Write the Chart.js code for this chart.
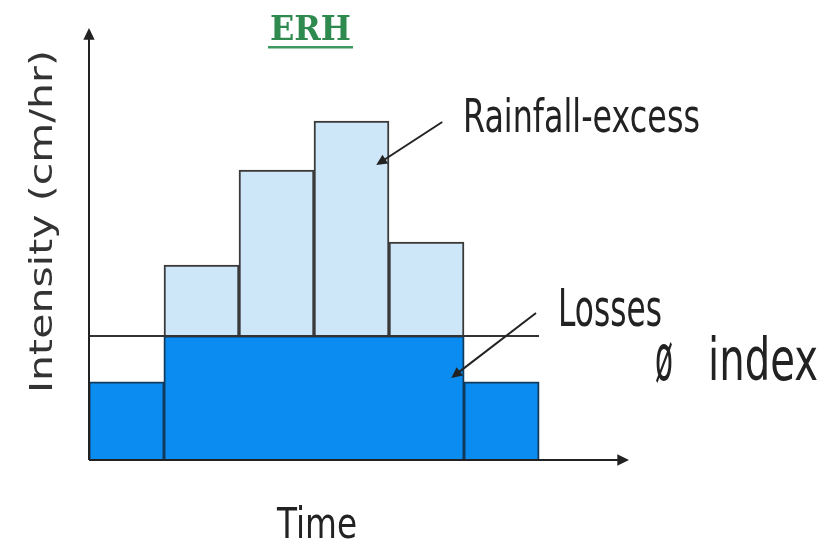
<!DOCTYPE html>
<html>
<head>
<meta charset="utf-8">
<title>ERH - phi index</title>
<script src="https://cdn.jsdelivr.net/npm/chart.js@4.4.1/dist/chart.umd.min.js"></script>
<style>
  html, body { margin: 0; padding: 0; background: #fff; }
  #erhChart { display: block; }
</style>
</head>
<body>
<canvas id="erhChart" width="835" height="545"></canvas>
<script>
// Dữ liệu (đơn vị cường độ tuỳ ý, trục thời gian tính theo khoảng)
const timeSteps = [0.5, 1.5, 2.5, 3.5, 4.5, 5.5]; // tâm của từng khoảng thời gian
const rainfall = [7.8, 19.5, 29.0, 33.9, 21.8, 7.8]; // cường độ mưa
const phiIndex = 12.4; // chỉ số ø
const phiSpan = [0, 6]; // đường ø kéo dài hết 6 khoảng

// Tổn thất = min(mưa, ø), mưa hiệu quả = phần vượt trên ø
const losses = rainfall.map((r) => Math.min(r, phiIndex));
const excess = rainfall.map((r) => (r > phiIndex ? [phiIndex, r] : null));

// Chú thích: vị trí theo toạ độ dữ liệu
const notes = [
  { text: "Rainfall-excess", from: [4.71, 33.8], to: [3.83, 29.5] },
  { text: "Losses", from: [5.96, 14.7], to: [4.83, 8.2] },
];

const DARK = "#0b8cf0";
const DARK_EDGE = "#123a5c";
const LIGHT = "#cde7f9";
const LIGHT_EDGE = "#3a3a3a";
const INK = "#222";
const FONT = "'DejaVu Sans', sans-serif";

// vẽ chữ vừa khít một hộp (x trái, y baseline, rộng w, cao h tính tới đỉnh chữ)
function fitText(ctx, text, x, y, w, h, font, color, weight) {
  ctx.save();
  ctx.font = (weight || "normal") + " 100px " + font;
  const m = ctx.measureText(text);
  ctx.translate(x, y);
  ctx.scale(w / m.width, h / m.actualBoundingBoxAscent);
  ctx.fillStyle = color;
  ctx.textAlign = "left";
  ctx.textBaseline = "alphabetic";
  ctx.fillText(text, 0, 0);
  ctx.restore();
}

function arrow(ctx, x1, y1, x2, y2, head, width) {
  const a = Math.atan2(y2 - y1, x2 - x1);
  ctx.save();
  ctx.strokeStyle = INK;
  ctx.fillStyle = INK;
  ctx.lineWidth = width;
  ctx.beginPath();
  ctx.moveTo(x1, y1);
  ctx.lineTo(x2 - Math.cos(a) * head * 0.8, y2 - Math.sin(a) * head * 0.8);
  ctx.stroke();
  ctx.beginPath();
  ctx.moveTo(x2, y2);
  ctx.lineTo(x2 - head * Math.cos(a - 0.45), y2 - head * Math.sin(a - 0.45));
  ctx.lineTo(x2 - head * Math.cos(a + 0.45), y2 - head * Math.sin(a + 0.45));
  ctx.closePath();
  ctx.fill();
  ctx.restore();
}

// Plugin: trục có mũi tên, tiêu đề, nhãn trục và chú thích
const decorations = {
  id: "decorations",
  afterDatasetsDraw(chart) {
    const ctx = chart.ctx;
    const area = chart.chartArea;
    const xs = chart.scales.x;
    const ys = chart.scales.y;

    // trục
    arrow(ctx, area.left, area.bottom, area.left, area.top, 13, 2);
    arrow(ctx, area.left, area.bottom, area.right, area.bottom, 13, 2);

    // tiêu đề ERH (gạch chân)
    fitText(ctx, "ERH", 270, 40, 81, 25, "'DejaVu Serif', serif", "#2f8a50", "bold");
    ctx.save();
    ctx.fillStyle = "#3c9a5e";
    ctx.fillRect(268, 46, 85, 2.5);
    ctx.restore();

    // nhãn trục
    fitText(ctx, "Time", 277, 538, 80, 33, FONT, INK);
    ctx.save();
    ctx.translate(52, 393);
    ctx.rotate(-Math.PI / 2);
    fitText(ctx, "Intensity (cm/hr)", 0, 0, 343, 24, FONT, "#333");
    ctx.restore();

    // chú thích có mũi tên
    notes.forEach((n) => {
      arrow(
        ctx,
        xs.getPixelForValue(n.from[0]), ys.getPixelForValue(n.from[1]),
        xs.getPixelForValue(n.to[0]), ys.getPixelForValue(n.to[1]),
        12, 2
      );
    });
    fitText(ctx, "Rainfall-excess", 463, 132, 237, 35, FONT, INK);
    fitText(ctx, "Losses", 558, 326, 104, 37, FONT, INK);
    fitText(ctx, "ø", 655, 380, 18, 38, FONT, INK);
    fitText(ctx, "index", 708, 380, 110, 45, FONT, INK);
  },
};

// viền của khối tổn thất: bỏ cạnh đứng giữa hai khoảng có cùng giá trị
function lossBorder(c) {
  const i = c.dataIndex;
  return {
    top: 2,
    left: i > 0 && losses[i - 1] === losses[i] ? 0 : 2,
    right: i < losses.length - 1 && losses[i + 1] === losses[i] ? 0 : 2,
    bottom: 0,
  };
}

new Chart(document.getElementById("erhChart").getContext("2d"), {
  type: "bar",
  data: {
    datasets: [
      {
        type: "line",
        label: "ø index",
        data: phiSpan.map((x) => ({ x: x, y: phiIndex })),
        borderColor: "#333",
        borderWidth: 2,
        pointRadius: 0,
        order: 0,
        clip: false,
      },
      {
        label: "Rainfall-excess",
        data: timeSteps.map((x, i) => ({ x: x, y: excess[i] })),
        backgroundColor: LIGHT,
        borderColor: LIGHT_EDGE,
        borderWidth: 2,
        order: 1,
        clip: false,
      },
      {
        label: "Losses",
        data: timeSteps.map((x, i) => ({ x: x, y: losses[i] })),
        backgroundColor: DARK,
        borderColor: DARK_EDGE,
        borderWidth: lossBorder,
        inflateAmount: 0.5,
        order: 2,
        clip: false,
      },
    ],
  },
  options: {
    responsive: false,
    animation: false,
    layout: { padding: { left: 89, right: 206, top: 28, bottom: 85 } },
    datasets: { bar: { barPercentage: 1, categoryPercentage: 1 } },
    plugins: { legend: { display: false }, tooltip: { enabled: false } },
    scales: {
      x: {
        type: "linear",
        min: 0,
        max: 7.2,
        offset: false,
        stacked: true,
        display: false,
        ticks: { stepSize: 1, includeBounds: false },
      },
      y: { min: 0, max: 43.2, stacked: false, display: false },
    },
  },
  plugins: [decorations],
});
</script>
</body>
</html>
